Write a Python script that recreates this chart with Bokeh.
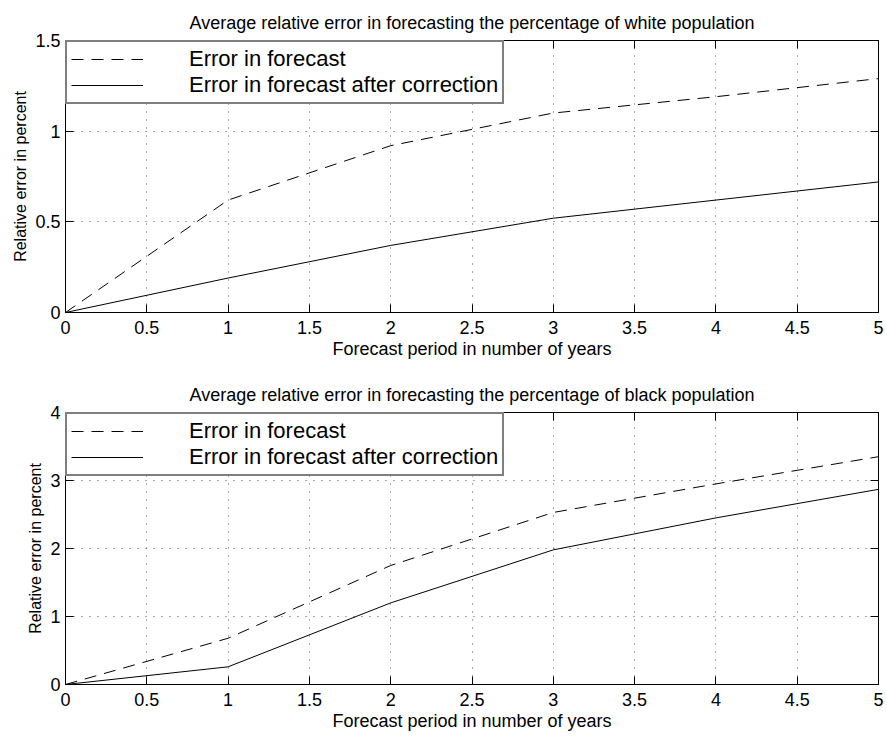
from bokeh.plotting import figure
from bokeh.layouts import column
from bokeh.models import Range1d, LinearAxis, FixedTicker, Legend, LegendItem, Title
from bokeh.embed import file_html
from bokeh.resources import INLINE

# ---- data ----
years = [0, 1, 2, 3, 4, 5]
white_error = [0.0, 0.62, 0.92, 1.10, 1.19, 1.29]
white_corrected = [0.0, 0.19, 0.37, 0.52, 0.62, 0.72]
black_error = [0.0, 0.68, 1.75, 2.53, 2.95, 3.35]
black_corrected = [0.0, 0.26, 1.20, 1.98, 2.45, 2.87]

x_ticks = [0, 0.5, 1, 1.5, 2, 2.5, 3, 3.5, 4, 4.5, 5]
white_y_ticks = [0, 0.5, 1, 1.5]
black_y_ticks = [0, 1, 2, 3, 4]

title_white = "Average relative error in forecasting the percentage of white population"
title_black = "Average relative error in forecasting the percentage of black population"
x_label = "Forecast period in number of years"
y_label = "Relative error in percent"
legend_labels = ["Error in forecast", "Error in forecast after correction"]

FONT = "Liberation Sans"


def tick_axis(ticks):
    ax = LinearAxis(ticker=FixedTicker(ticks=ticks),
                    major_label_overrides={t: "" for t in ticks},
                    major_label_standoff=0,
                    major_tick_in=8, major_tick_out=0,
                    minor_tick_line_color=None,
                    axis_line_color="black",
                    major_tick_line_color="black")
    return ax


def make_panel(title, err, corr, ymax, yticks, top_border, bottom_border):
    p = figure(frame_width=813, frame_height=272,
               min_border_left=65, min_border_right=9,
               min_border_top=top_border, min_border_bottom=bottom_border,
               x_range=Range1d(0, 5), y_range=Range1d(0, ymax),
               output_backend="svg", toolbar_location=None,
               x_axis_label=x_label, y_axis_label=y_label)
    p.title = Title(text=title, align="center", text_font=FONT,
                    text_font_size="18px", text_font_style="normal",
                    text_color="black", standoff=15)
    p.outline_line_color = "black"
    p.background_fill_color = "white"
    p.border_fill_color = "white"

    for ax, ticks in ((p.xaxis[0], x_ticks), (p.yaxis[0], yticks)):
        ax.ticker = FixedTicker(ticks=ticks)
        ax.major_tick_in = 8
        ax.major_tick_out = 0
        ax.minor_tick_line_color = None
        ax.axis_line_color = "black"
        ax.major_tick_line_color = "black"
        ax.major_label_text_font = FONT
        ax.major_label_text_font_size = "18px"
        ax.major_label_text_color = "black"
        ax.axis_label_text_font = FONT
        ax.axis_label_text_font_style = "normal"
        ax.axis_label_text_color = "black"
    p.xaxis.major_label_standoff = 8
    p.xaxis.axis_label_standoff = 2
    p.xaxis.axis_label_text_font_size = "18px"
    p.yaxis.major_label_standoff = 5
    p.yaxis.axis_label_standoff = 3
    p.yaxis.axis_label_text_font_size = "16px"

    p.add_layout(tick_axis(yticks), "right")
    p.add_layout(tick_axis(x_ticks), "above")

    p.xgrid.ticker = FixedTicker(ticks=x_ticks)
    p.ygrid.ticker = FixedTicker(ticks=yticks)
    for g in (p.xgrid, p.ygrid):
        g.grid_line_color = "#555555"
        g.grid_line_dash = "1 7"
        g.grid_line_width = 1

    r1 = p.line(years, err, line_color="black", line_width=1, line_dash="12 8")
    r2 = p.line(years, corr, line_color="black", line_width=1)

    legend = Legend(items=[LegendItem(label=legend_labels[0], renderers=[r1]),
                           LegendItem(label=legend_labels[1], renderers=[r2])],
                    location="top_left", margin=0, padding=4, spacing=0,
                    glyph_width=72, glyph_height=18, label_height=18,
                    label_standoff=46,
                    label_text_font=FONT, label_text_font_size="22px",
                    label_text_line_height=0.85,
                    label_text_color="black",
                    border_line_color="black", border_line_width=2,
                    background_fill_color="white", background_fill_alpha=1)
    p.add_layout(legend)
    return p


p1 = make_panel(title_white, white_error, white_corrected, 1.5, white_y_ticks, 40, 60)
p2 = make_panel(title_black, black_error, black_corrected, 4, black_y_ticks, 40, 53)

layout = column(p1, p2, spacing=0)
open("out.html", "w").write(file_html(layout, INLINE))
